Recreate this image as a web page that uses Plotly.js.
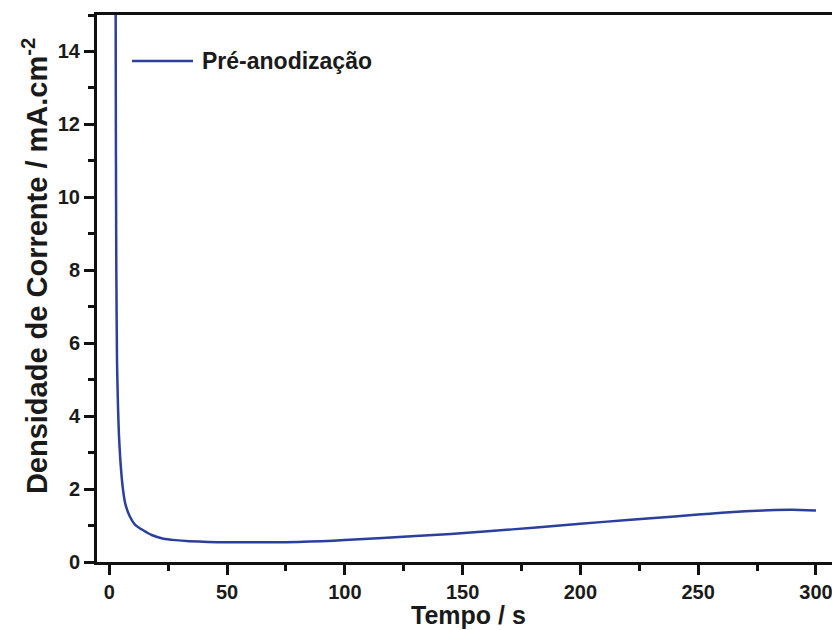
<!DOCTYPE html>
<html>
<head>
<meta charset="utf-8">
<script src="https://cdn.plot.ly/plotly-3.0.1.min.js"></script>
<style>
html,body{margin:0;padding:0;overflow:hidden;background:#fff;}
#chart{width:860px;height:630px;}
</style>
</head>
<body>
<div id="chart"></div>
<script>
// Time (s)
var tempo = [2.7, 2.8, 3.0, 3.3, 3.7, 4.1, 4.7, 5.7, 6.8, 8.8, 11, 14.4, 18, 23, 28, 34, 42, 50, 60, 70, 80, 90, 100, 116, 130, 145, 162, 180, 200, 220, 240, 250, 260, 270, 280, 290, 300];
// Current density (mA.cm^-2)
var densidade = [16, 12, 8, 5.5, 4.3, 3.5, 2.8, 2.06, 1.6, 1.24, 1.02, 0.87, 0.74, 0.64, 0.6, 0.57, 0.55, 0.54, 0.54, 0.54, 0.55, 0.57, 0.6, 0.66, 0.71, 0.77, 0.85, 0.94, 1.05, 1.15, 1.25, 1.3, 1.35, 1.39, 1.42, 1.43, 1.41];
var serieNome = 'Pré-anodização';
var tituloX = 'Tempo / s';
var tituloY = 'Densidade de Corrente / mA.cm<sup>-2</sup>';

var fontFam = 'Liberation Sans, Arial, sans-serif';
var lineColor = '#2b3f9c';
var trace = {
  x: tempo, y: densidade, type: 'scatter', mode: 'lines', name: serieNome,
  line: {color: lineColor, width: 2.5, shape: 'spline', smoothing: 0.5},
  showlegend: false
};
var layout = {
  width: 860, height: 630,
  margin: {l: 97, r: 20, t: 15, b: 68},
  paper_bgcolor: '#fff', plot_bgcolor: '#fff',
  font: {family: fontFam, color: '#1a1a1a'},
  showlegend: false,
  shapes: [
    {type: 'line', xref: 'paper', yref: 'paper', x0: 0.0471, x1: 0.1292, y0: 0.9159, y1: 0.9159,
     line: {color: lineColor, width: 2.5}}
  ],
  annotations: [
    {xref: 'paper', yref: 'paper', x: 0.1386, y: 0.9159, xanchor: 'left', yanchor: 'middle',
     text: serieNome, showarrow: false,
     font: {family: fontFam, size: 23, weight: 'bold', color: '#1a1a1a'}},
    {xref: 'paper', yref: 'paper', x: -0.0834, y: 0.541, xanchor: 'center', yanchor: 'middle',
     text: tituloY, textangle: -90, showarrow: false,
     font: {family: fontFam, size: 29, weight: 'bold', color: '#1a1a1a'}},
    {xref: 'paper', yref: 'paper', x: 0.5, y: -0.1243, xanchor: 'center', yanchor: 'bottom',
     text: tituloX, showarrow: false, borderpad: 0,
     font: {family: fontFam, size: 25, weight: 'bold', color: '#1a1a1a'}}
  ],
  xaxis: {
    range: [-5.2, 310.2], dtick: 50, tick0: 0,
    showgrid: false, zeroline: false,
    showline: true, linewidth: 3, linecolor: '#111', mirror: true,
    ticks: 'outside', ticklen: 10, tickwidth: 3, tickcolor: '#111',
    minor: {dtick: 25, tick0: 0, ticks: 'outside', ticklen: 6, tickwidth: 3, tickcolor: '#111', showgrid: false},
    tickfont: {family: fontFam, size: 20, weight: 'bold', color: '#1a1a1a'}
  },
  yaxis: {
    range: [0, 15], dtick: 2, tick0: 0,
    showgrid: false, zeroline: false,
    showline: true, linewidth: 3, linecolor: '#111', mirror: true,
    ticks: 'outside', ticklen: 10, tickwidth: 3, tickcolor: '#111',
    minor: {dtick: 1, tick0: 0, ticks: 'outside', ticklen: 6, tickwidth: 3, tickcolor: '#111', showgrid: false},
    tickfont: {family: fontFam, size: 20, weight: 'bold', color: '#1a1a1a'}
  }
};
Plotly.newPlot('chart', [trace], layout, {displayModeBar: false, staticPlot: true});
</script>
</body>
</html>
